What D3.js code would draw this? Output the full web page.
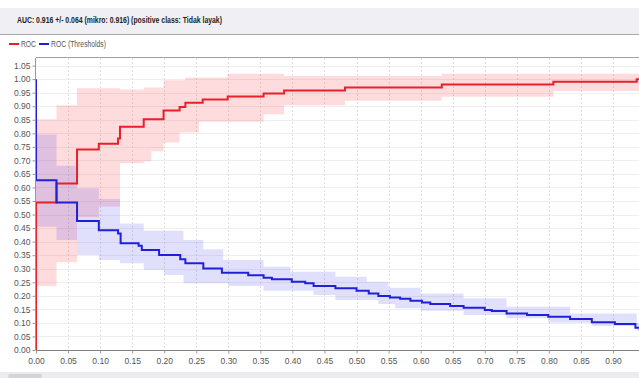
<!DOCTYPE html>
<html><head><meta charset="utf-8">
<script src="https://cdn.jsdelivr.net/npm/d3@7"></script>
<style>body{margin:0;background:#fff}svg{display:block}</style>
</head><body>
<svg id="c" width="639" height="378"></svg>
<script>
const titleText = "AUC: 0.916 +/- 0.064 (mikro: 0.916) (positive class: Tidak layak)";
const seriesNames = ["ROC", "ROC (Thresholds)"];
const xTicks = d3.range(0, 19).map(i => +(i * 0.05).toFixed(2));
const yTicks = d3.range(0, 22).map(i => +(i * 0.05).toFixed(2));

// ROC mean curve (step-after)
const rocX = [0, 0, 0.032, 0.064, 0.098, 0.128, 0.131, 0.168, 0.199, 0.224, 0.233, 0.26, 0.299, 0.355, 0.387, 0.482, 0.633, 0.807, 0.937, 0.95];
const rocY = [0, 0.545, 0.615, 0.74, 0.761, 0.781, 0.824, 0.852, 0.884, 0.897, 0.913, 0.925, 0.936, 0.947, 0.958, 0.969, 0.98, 0.99, 1.0, 1.0];
// ROC band
const rocBandX = [0, 0.032, 0.064, 0.098, 0.131, 0.168, 0.18, 0.199, 0.224, 0.233, 0.254, 0.299, 0.355, 0.387, 0.482, 0.633, 0.807, 0.95];
const rocUpper = [0.852, 0.904, 0.966, 0.966, 0.962, 0.969, 0.969, 0.996, 0.996, 1.006, 1.006, 1.02, 1.02, 1.012, 1.012, 1.02, 1.02, 1.02];
const rocLower = [0.236, 0.324, 0.49, 0.53, 0.689, 0.697, 0.734, 0.766, 0.803, 0.803, 0.843, 0.843, 0.87, 0.904, 0.92, 0.935, 0.956, 0.956];

// Thresholds curve
const thrX = [0, 0, 0.032, 0.064, 0.098, 0.128, 0.132, 0.16, 0.165, 0.192, 0.225, 0.233, 0.261, 0.29, 0.331, 0.355, 0.368, 0.399, 0.42, 0.433, 0.467, 0.5, 0.519, 0.534, 0.552, 0.568, 0.584, 0.602, 0.615, 0.646, 0.667, 0.7, 0.711, 0.734, 0.766, 0.799, 0.833, 0.867, 0.903, 0.935, 0.95];
const thrY = [1.0, 0.627, 0.545, 0.476, 0.442, 0.43, 0.394, 0.385, 0.369, 0.351, 0.335, 0.32, 0.301, 0.285, 0.276, 0.267, 0.261, 0.252, 0.246, 0.236, 0.228, 0.219, 0.209, 0.199, 0.194, 0.189, 0.182, 0.175, 0.17, 0.162, 0.156, 0.148, 0.144, 0.135, 0.129, 0.123, 0.114, 0.102, 0.096, 0.082, 0.082];
// Thresholds band
const thrBandX = [0, 0.032, 0.064, 0.098, 0.131, 0.168, 0.2, 0.23, 0.261, 0.292, 0.3, 0.355, 0.397, 0.433, 0.467, 0.516, 0.534, 0.55, 0.56, 0.6, 0.667, 0.734, 0.799, 0.833, 0.867, 0.937, 0.95];
const thrUpper = [0.796, 0.68, 0.597, 0.557, 0.467, 0.44, 0.44, 0.406, 0.372, 0.332, 0.332, 0.307, 0.289, 0.289, 0.27, 0.252, 0.252, 0.23, 0.23, 0.209, 0.191, 0.16, 0.16, 0.135, 0.135, 0.1, 0.1];
const thrLower = [0.455, 0.406, 0.351, 0.332, 0.32, 0.295, 0.277, 0.246, 0.246, 0.246, 0.236, 0.219, 0.219, 0.203, 0.185, 0.185, 0.17, 0.17, 0.154, 0.145, 0.129, 0.117, 0.101, 0.101, 0.089, 0.07, 0.07];

const svg = d3.select("#c");
const W = 639, H = 378;
const plot = {left: 36, right: 639, top: 58, bottom: 350};
const x = d3.scaleLinear().domain([0, 0.9406]).range([plot.left, plot.right]);
const y = d3.scaleLinear().domain([0, 1.078]).range([plot.bottom, plot.top]);
const font = "'Liberation Sans', Arial, sans-serif";

// header bar
svg.append("rect").attr("x", 0).attr("y", 8).attr("width", W).attr("height", 26).attr("fill", "#f0f0f4");
svg.append("line").attr("x1", 0).attr("x2", W).attr("y1", 34.5).attr("y2", 34.5).attr("stroke", "#a8a8a8");
svg.append("text").attr("x", 17).attr("y", 22.5).text(titleText)
  .attr("font-family", font).attr("font-size", 9).attr("font-weight", "bold").attr("fill", "#222")
  .attr("textLength", 205).attr("lengthAdjust", "spacingAndGlyphs");

// legend
const legCols = ["#e8202a", "#2020d8"];
const legX = [9, 39];
const legW = [15, 55];
seriesNames.forEach((n, i) => {
  svg.append("line").attr("x1", legX[i]).attr("x2", legX[i] + 10).attr("y1", 44).attr("y2", 44)
    .attr("stroke", legCols[i]).attr("stroke-width", 2);
  svg.append("text").attr("x", legX[i] + 12).attr("y", 47).text(n)
    .attr("font-family", font).attr("font-size", 8.5).attr("fill", "#555")
    .attr("textLength", legW[i]).attr("lengthAdjust", "spacingAndGlyphs");
});

// clip
svg.append("clipPath").attr("id", "pc").append("rect")
  .attr("x", plot.left).attr("y", plot.top).attr("width", plot.right - plot.left).attr("height", plot.bottom - plot.top);

// grid
const g = svg.append("g");
g.selectAll(".gy").data(yTicks.filter(v => v > 0)).join("line")
  .attr("x1", plot.left).attr("x2", plot.right)
  .attr("y1", d => Math.round(y(d)) + 0.5).attr("y2", d => Math.round(y(d)) + 0.5)
  .attr("stroke", "#efefef");
g.selectAll(".gx").data(xTicks.filter(v => v > 0)).join("line")
  .attr("x1", d => Math.round(x(d)) + 0.5).attr("x2", d => Math.round(x(d)) + 0.5)
  .attr("y1", plot.top).attr("y2", plot.bottom)
  .attr("stroke", "#dedede").attr("stroke-dasharray", "2,2");

const pl = svg.append("g").attr("clip-path", "url(#pc)");

function band(bx, lo, up, color) {
  const pts = bx.map((v, i) => ({x: v, lo: lo[i], up: up[i]}));
  const area = d3.area().curve(d3.curveStepAfter)
    .x(d => x(d.x)).y0(d => y(d.lo)).y1(d => y(d.up));
  pl.append("path").datum(pts).attr("d", area).attr("fill", color);
}
band(rocBandX, rocLower, rocUpper, "rgba(250,40,50,0.17)");
band(thrBandX, thrLower, thrUpper, "rgba(60,60,245,0.16)");

function curve(xs, ys, color) {
  const pts = xs.map((v, i) => [v, ys[i]]);
  const line = d3.line().curve(d3.curveStepAfter).x(d => x(d[0])).y(d => y(d[1]));
  pl.append("path").datum(pts).attr("d", line).attr("fill", "none")
    .attr("stroke", color).attr("stroke-width", 2);
}
curve(rocX, rocY, "#e8202a");
curve(thrX, thrY, "#2020d8");

// plot frame
svg.append("line").attr("x1", plot.left).attr("x2", plot.right).attr("y1", plot.top - 0.5).attr("y2", plot.top - 0.5)
  .attr("stroke", "#a0a0a0");

// axes
const yAxis = d3.axisLeft(y).tickValues(yTicks).tickFormat(d3.format(".2f")).tickSize(3).tickPadding(2);
const ya = svg.append("g").attr("transform", `translate(${plot.left - 0.5},0)`).call(yAxis);
ya.select(".domain").attr("stroke", "#999").attr("d", `M-0,${plot.top}V${plot.bottom}`);
ya.selectAll(".tick line").attr("stroke", "#999");
ya.selectAll("text").attr("font-family", font).attr("font-size", 8.5).attr("fill", "#555");

const xAxis = d3.axisBottom(x).tickValues(xTicks).tickFormat(d3.format(".2f")).tickSize(3).tickPadding(4);
const xa = svg.append("g").attr("transform", `translate(0,${plot.bottom + 0.5})`).call(xAxis);
xa.select(".domain").attr("stroke", "#808080").attr("d", `M${plot.left},0H${plot.right}`);
xa.selectAll(".tick line").attr("stroke", "#999");
xa.selectAll("text").attr("font-family", font).attr("font-size", 8.5).attr("fill", "#555");

// bottom strip
svg.append("rect").attr("x", 0).attr("y", 372).attr("width", W).attr("height", 6).attr("fill", "#ececf0");
svg.append("rect").attr("x", 8).attr("y", 374).attr("width", 34).attr("height", 4).attr("fill", "#d4d4d8").attr("rx", 2);
</script>
</body></html>
